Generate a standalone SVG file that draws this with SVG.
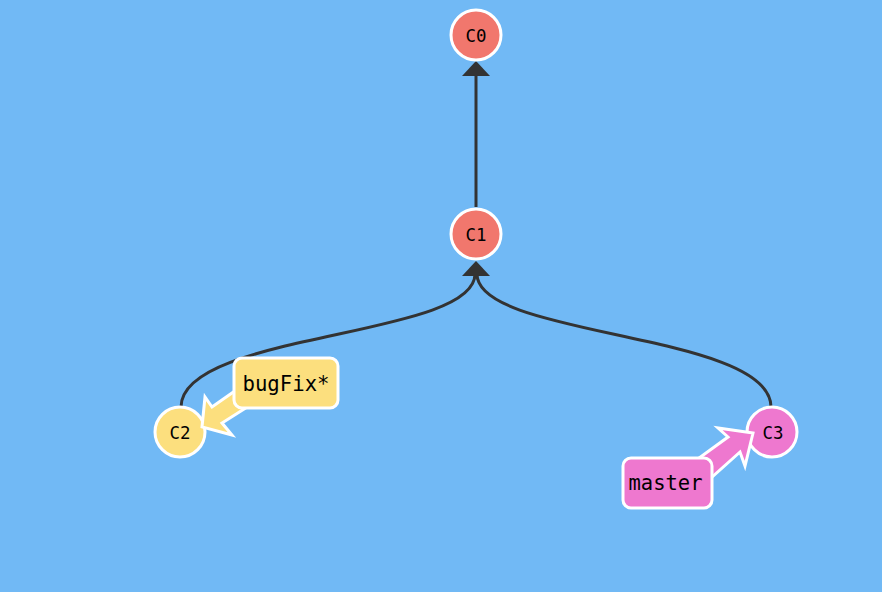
<svg xmlns="http://www.w3.org/2000/svg" width="882" height="592" viewBox="0 0 882 592">
<style>
.edge{fill:none;stroke:#333;stroke-width:3}
.head{fill:#333}
.node circle{stroke:#fff;stroke-width:3}
.node text{font-family:"DejaVu Sans Mono",monospace;font-size:18px;fill:#000;text-anchor:middle}
.branch rect,.branch polygon{stroke:#fff;stroke-width:3;stroke-linejoin:miter}
.branch rect{stroke-linejoin:round}
.branch text{font-family:"DejaVu Sans Mono",monospace;font-size:21.5px;fill:#000;text-anchor:middle}
.red{fill:#F1776D}
.yellow{fill:#FCDF7E}
.pink{fill:#EE78CF}
</style>
<rect x="0" y="0" width="882" height="592" fill="#71B9F5"/>
<g id="connectors">
<line class="edge" x1="476" y1="207" x2="476" y2="74"/>
<polygon class="head" points="476,61 490,76 462,76"/>
<path class="edge" d="M181,407 C181,332 475,338 475,274"/>
<path class="edge" d="M771,407 C771,332 477,338 477,274"/>
<polygon class="head" points="476,261 490,276 462,276"/>
</g>
<g id="C0" class="node"><circle class="red" cx="476" cy="35" r="25"/><text x="476" y="41.5" textLength="21" lengthAdjust="spacingAndGlyphs">C0</text></g>
<g id="C1" class="node"><circle class="red" cx="476" cy="234" r="25"/><text x="476" y="240.5" textLength="21" lengthAdjust="spacingAndGlyphs">C1</text></g>
<g id="C2" class="node"><circle class="yellow" cx="180" cy="432" r="25"/><text x="180" y="439" textLength="21" lengthAdjust="spacingAndGlyphs">C2</text></g>
<g id="C3" class="node"><circle class="pink" cx="772" cy="432" r="25"/><text x="773" y="439" textLength="21" lengthAdjust="spacingAndGlyphs">C3</text></g>
<g id="bugFix" class="branch">
<polygon class="yellow" points="202,427 205,397 212,407 242,386 252,404 222,423 232,435"/>
<rect class="yellow" x="234" y="358" width="104" height="50" rx="8"/>
<text x="286" y="390.5" textLength="87" lengthAdjust="spacingAndGlyphs">bugFix*</text>
</g>
<g id="master" class="branch">
<polygon class="pink" points="753,433 718,428 728,437 688,466 702,486 740,452 745,466"/>
<rect class="pink" x="623" y="458" width="89" height="50" rx="8"/>
<text x="665.5" y="490" textLength="74" lengthAdjust="spacingAndGlyphs">master</text>
</g>
</svg>
